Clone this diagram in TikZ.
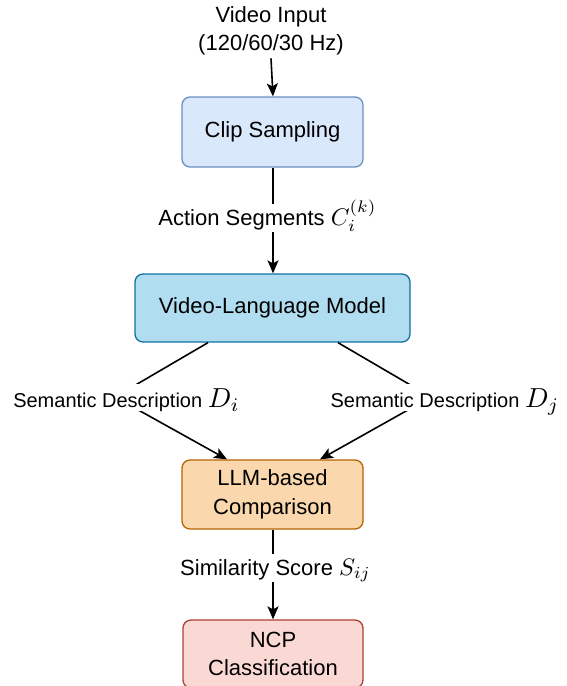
\documentclass[tikz,border=0pt]{standalone}
\usepackage{graphicx}
\usepackage{fontspec}
\setmainfont{Liberation Sans}
\usetikzlibrary{arrows.meta}
\definecolor{clipfill}{HTML}{DAE8FC}
\definecolor{clipdraw}{HTML}{6C8EBF}
\definecolor{vlmfill}{HTML}{B1DDF0}
\definecolor{vlmdraw}{HTML}{10739E}
\definecolor{llmfill}{HTML}{FAD7AC}
\definecolor{llmdraw}{HTML}{B46504}
\definecolor{ncpfill}{HTML}{FAD9D5}
\definecolor{ncpdraw}{HTML}{AE4132}
\newcommand{\mathbig}[2]{\scalebox{#1}{\fontsize{10}{12}\selectfont$#2$}}
\begin{document}
\begin{tikzpicture}[x=1pt,y=-1pt,
  box/.style={rounded corners=8pt, line width=1.3pt, align=center, inner sep=0pt,
    font=\fontsize{22}{28.5}\selectfont},
  arr/.style={line width=1.6pt, -{Stealth[length=13pt,width=11pt,inset=3pt]}},
  lab/.style={fill=white, inner xsep=1pt, inner ysep=0pt, font=\fontsize{22}{27}\selectfont,
    text height=21pt, text depth=7pt},
  slab/.style={fill=white, inner xsep=1pt, inner ysep=0pt, font=\fontsize{20}{23}\selectfont,
    text height=23pt, text depth=4pt}
]
\useasboundingbox (0,0) rectangle (567,686);

% nodes
\node[align=center, inner sep=0pt, font=\fontsize{22}{28}\selectfont] (input) at (271,31)
  {Video Input\\(120/60/30 Hz)};
\node[box, fill=clipfill, draw=clipdraw, minimum width=181pt, minimum height=70pt] (clip)
  at (272.5,132) {Clip Sampling};
\node[box, fill=vlmfill, draw=vlmdraw, minimum width=275pt, minimum height=68pt] (vlm)
  at (272.5,308) {Video-Language Model};
\node[box, fill=llmfill, draw=llmdraw, minimum width=181pt, minimum height=69pt] (llm)
  at (272.5,494.5) {LLM-based\\Comparison};
\node[box, fill=ncpfill, draw=ncpdraw, minimum width=180pt, minimum height=68pt] (ncp)
  at (273,654) {NCP\\Classification};

% connectors
\draw[arr] ([yshift=-3pt]input.south) -- (clip.north -| 273,0);
\draw[arr] (clip.south -| 273,0) -- (vlm.north -| 273,0);
\coordinate (wl) at (115,397);
\coordinate (wr) at (431,397);
\draw[arr] ([xshift=-64.5pt]vlm.south) -- (wl) -- ([xshift=-45.5pt]llm.north);
\draw[arr] ([xshift=65.5pt]vlm.south) -- (wr) -- ([xshift=47.5pt]llm.north);
\draw[arr] (llm.south -| 273,0) -- (ncp.north -| 273,0);

% edge labels
\node[lab] (act) at (267.5,218) {Action Segments \mathbig{2.4}{C_i^{(k)}}};
\node[slab] (sdi) at (126.5,397.5) {Semantic Description \mathbig{2.75}{D_i}};
\node[slab] (sdj) at (445,397.5) {Semantic Description \mathbig{2.75}{D_j}};
\node[lab] (sim) at (275.5,568) {Similarity Score \mathbig{2.4}{S_{ij}}};
\end{tikzpicture}
\end{document}
